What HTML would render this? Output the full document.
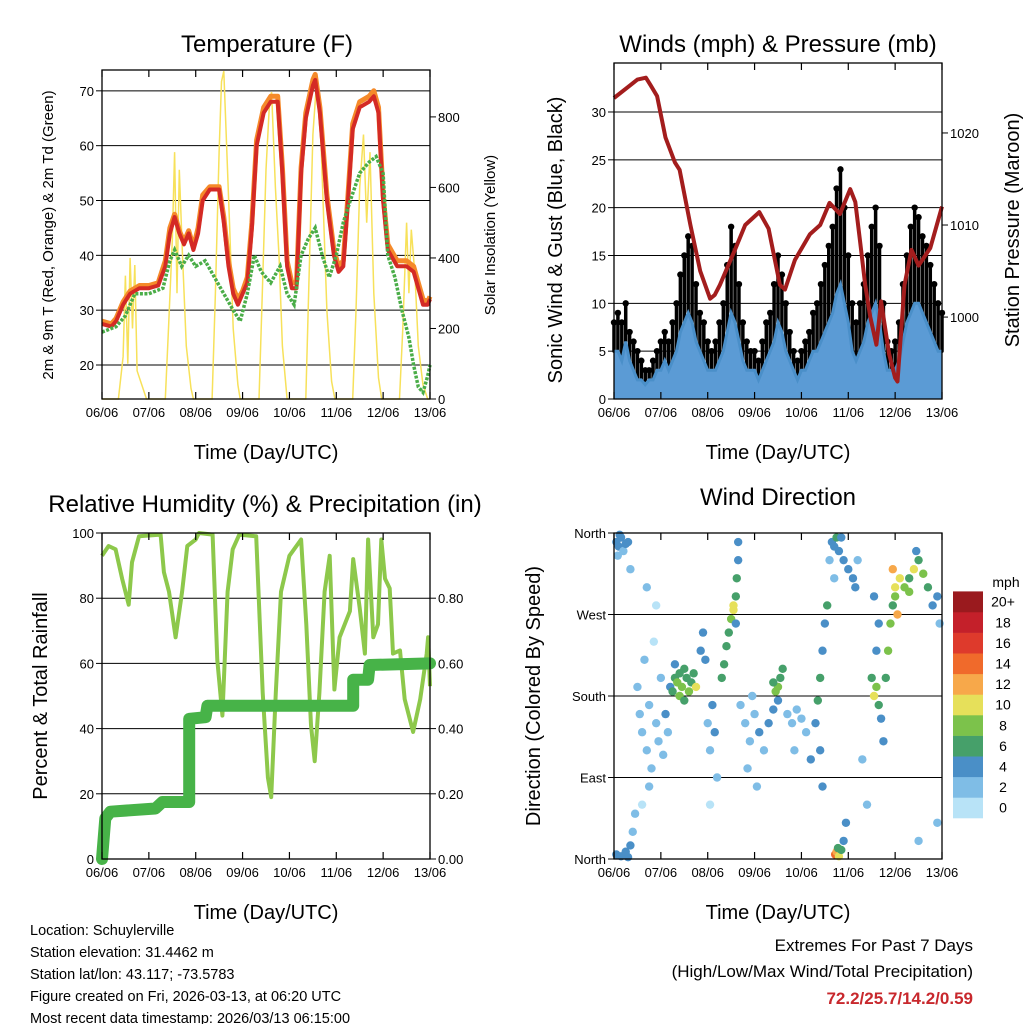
<!DOCTYPE html>
<html><head><meta charset="utf-8"><style>
body{margin:0;background:#fff}
svg{display:block;font-family:"Liberation Sans",sans-serif}
</style></head><body>
<svg id="s" width="1024" height="1024" viewBox="0 0 1024 1024" xmlns="http://www.w3.org/2000/svg"></svg>
<script>
// ---------- DATA ----------
const dayLabels = ["06/06","07/06","08/06","09/06","10/06","11/06","12/06","13/06"];
const tempTime = [0,0.2,0.3,0.45,0.6,0.8,1.0,1.2,1.35,1.45,1.55,1.65,1.75,1.85,1.95,2.05,2.15,2.3,2.5,2.6,2.7,2.8,2.9,3.0,3.1,3.2,3.3,3.45,3.6,3.75,3.85,3.95,4.05,4.15,4.25,4.35,4.5,4.55,4.65,4.8,4.95,5.05,5.15,5.25,5.35,5.5,5.7,5.8,5.9,6.0,6.1,6.3,6.5,6.65,6.75,6.85,6.95,7.0];
const temp2m = [27.5,27,28,31,33,34,34,34.5,38,44,47,44,42,44,41,44,50,52,52,46,38,33,31,33,35,45,60,66,68,68,55,38,34,34,55,65,71,72,66,50,40,37,38,50,63,67,68,69,66,50,41,38,38,37,34,31,31,32];
const temp9m = [28,27.5,28.5,31.5,33.5,34.5,34.5,35,39,45,47.5,44.5,42.5,44.5,41.5,45,51,52.5,52.5,47,39,34,32,33.5,36,46,61,67,69,69,56,39,35,35,56,66,72,73,67,51,41,38,39,51,64,68,69,70,67,51,42,39,39,38,35,32,31.5,32.5];
const dewTime = [0,0.3,0.5,0.7,1.0,1.3,1.45,1.55,1.7,1.85,2.0,2.2,2.4,2.6,2.8,2.95,3.1,3.25,3.4,3.6,3.8,3.95,4.1,4.25,4.4,4.55,4.7,4.85,5.0,5.15,5.3,5.5,5.7,5.85,6.0,6.1,6.25,6.4,6.55,6.65,6.75,6.85,6.95,7.0];
const dew2m = [26,27,29,33,33,34,39,41,38,40,38,39,36,33,30,28,33,40,37,35,38,33,31,40,43,45,40,36,40,46,50,55,57,58,55,40,36,30,25,20,16,15,18,20];
const solarTime = [0,0.35,0.45,0.5,0.55,0.6,0.65,0.7,0.75,0.85,0.95,1.35,1.42,1.5,1.55,1.6,1.65,1.72,1.8,1.9,1.95,2.35,2.42,2.5,2.55,2.6,2.65,2.72,2.8,2.9,2.95,3.35,3.42,3.5,3.58,3.62,3.7,3.78,3.85,3.95,4.35,4.42,4.5,4.58,4.65,4.72,4.8,4.9,4.97,5.35,5.42,5.5,5.58,5.65,5.72,5.8,5.9,5.97,6.35,6.42,6.5,6.55,6.6,6.68,6.75,6.85,6.95,7.0];
const solarVal = [0,0,120,350,100,400,200,380,80,40,0,0,200,450,700,300,650,400,150,30,0,0,300,700,900,930,750,500,200,40,0,0,300,650,850,870,600,400,150,0,0,350,750,900,820,550,250,50,0,0,250,600,750,500,700,300,60,0,0,200,500,300,480,350,150,40,0,0];
const gust = [8,9,8,10,7,6,5,4,3,3,4,5, 6,7,6,8,10,13,15,17,16,12,9,8, 6,5,6,8,10,14,18,16,12,8,6,5, 5,4,6,8,9,12,15,13,10,7,5,4, 5,6,7,9,10,12,14,16,18,22,24,20, 15,10,8,10,12,15,18,20,16,10,6,5, 6,8,12,15,18,20,19,17,16,14,12,10, 9];
const wind = [5,5,4,6,4,3,2,2,1.5,2,2,3, 3,4,3,4,5,7,8,9,8,6,5,4, 3,3,3,4,5,7,9,8,6,4,3,3, 3,2,3,4,5,6,8,7,5,4,3,2, 3,3,4,5,5,6,7,8,9,11,12,10, 8,5,4,5,6,8,9,10,8,5,3,3, 3,4,6,8,9,10,10,9,8,7,6,5, 5];
const presTime = [0,0.3,0.5,0.68,0.78,0.92,1.1,1.3,1.4,1.63,1.84,2.05,2.15,2.26,2.58,2.8,3.1,3.3,3.54,3.65,3.86,4.18,4.4,4.6,4.82,5.04,5.15,5.25,5.36,5.47,5.6,5.7,5.87,6.0,6.05,6.2,6.35,6.5,6.75,7.0];
const presVal = [1023.8,1025,1025.8,1026,1025.2,1024,1019.5,1016.8,1016,1010,1005,1002,1002.4,1003.5,1007.3,1010,1011.4,1009.6,1003.5,1003,1006.2,1009,1010,1012.4,1011.2,1013.9,1012.5,1008.3,1003.5,1000,997,1001.7,996,993.4,993,1003.5,1007.3,1005.6,1007.5,1012];
const rhTime = [0,0.14,0.29,0.43,0.57,0.64,0.79,1.25,1.32,1.43,1.57,1.71,1.82,2.0,2.07,2.36,2.46,2.57,2.68,2.79,2.93,3.29,3.43,3.54,3.61,3.71,3.82,4.0,4.25,4.36,4.46,4.54,4.64,4.75,4.86,4.96,5.07,5.29,5.36,5.5,5.61,5.68,5.79,5.89,5.96,6.04,6.14,6.21,6.36,6.46,6.64,6.79,6.93,6.96,7.0];
const rhVal = [93,96,95,86,78,91,99,99.5,88,82,68,82,96,98,100,99.5,61,44,82,95,99.5,99,51,25,19,51,82,93,98,72,41,30,51,82,93,52,68,76,92,77,63,98,68,72,98,86,83,63,64,49,39,49,63,68,53];
const rainTime = [0,0.07,0.18,1.14,1.29,1.86,1.86,2.21,2.25,5.36,5.36,5.68,5.71,7.0];
const rainVal = [0,0.125,0.145,0.155,0.175,0.175,0.43,0.435,0.47,0.47,0.55,0.55,0.595,0.60];
const dirTime = [0.05,0.1,0.15,0.2,0.25,0.08,0.3,0.12,0.35, 0.05,0.15,0.25,0.35,0.4,0.45,0.3, 0.5,0.55,0.6,0.65,0.7,0.75,0.8,0.85,0.9,0.95,1.0,1.05,1.1,1.15,0.7,0.9,0.6,0.75, 1.2,1.25,1.3,1.35,1.4,1.45,1.5,1.55,1.6,1.65,1.7,1.75,1.4,1.5,1.3,1.85,1.9,1.95, 2.0,2.05,2.1,2.15,2.2,2.05, 2.3,2.35,2.4,2.45,2.5,2.55,2.6,2.62,2.65,2.55,2.6,2.65, 2.7,2.8,2.9,3.0,3.1,3.2,3.3,3.4,2.85,3.05,2.95, 3.45,3.5,3.55,3.6,3.5,3.4, 3.7,3.8,3.9,4.0,4.1,3.85,4.2, 4.3,4.35,4.4,4.45,4.5,4.55,4.4,4.45, 4.6,4.65,4.7,4.75,4.8,4.85,4.9,5.0,5.1,5.15,5.2,4.7, 4.72,4.75,4.8,4.78,4.85,4.9,4.95, 5.5,5.55,5.6,5.65,5.7,5.75,5.6,5.65,5.55, 5.8,5.85,5.9,5.95,6.0,6.05,6.1,5.95,6.0, 6.2,6.3,6.4,6.5,6.6,6.7,6.8,6.9,6.95,6.3,6.45, 5.3,5.4,6.5,6.9];
const dirDeg = [350,345,355,340,348,335,350,358,320, 5,3,8,15,30,50,2, 190,160,140,220,120,170,100,240,150,130,200,115,160,140,300,280,60,80, 190,185,200,195,205,190,210,200,185,195,205,190,180,175,215,230,250,220, 150,120,170,140,90,60, 200,215,235,250,265,275,290,310,330,280,260,350, 170,150,130,160,140,120,150,165,100,80,180, 185,190,200,210,175,195, 160,150,165,155,140,120,110, 150,175,200,230,260,280,120,80, 330,350,345,355,340,355,330,320,310,300,330,310, 5,8,3,12,10,20,40, 200,180,190,170,155,130,230,260,290, 200,230,260,280,300,270,310,320,290, 300,310,320,330,315,300,280,290,260,295,340, 110,60,20,40];
const dirSpd = [3,4,3,2,4,2,3,4,1, 3,4,3,4,2,2,4, 1,2,2,1,1,2,1,0,2,2,1,2,3,2,1,0,0,1, 4,6,6,7,6,8,6,5,8,6,5,9,7,6,4,4,3,3, 2,2,3,3,1,0, 5,6,6,5,7,9,6,5,4,10,4,4, 1,2,2,1,3,2,4,3,1,1,1, 7,8,6,5,4,6, 2,2,1,2,2,1,3, 4,5,6,4,4,6,4,3, 2,3,4,6,3,4,4,4,3,4,2,2, 14,12,10,6,6,4,3, 6,10,7,5,4,3,4,4,3, 6,7,8,6,10,12,9,12,8, 8,6,9,6,8,5,4,4,2,7,4, 2,1,1,1];
const cbLabels = ["0","2","4","6","8","10","12","14","16","18","20+"];
const cbColors = ["#b8e3f7","#7fbde6","#4a8fc7","#46a06a","#7cc24b","#e6e05a","#f7a84a","#f06a2b","#de3a2c","#c4202a","#9a1a1e"];

// ---------- HELPERS ----------
const svg = document.getElementById('s');
const NS = "http://www.w3.org/2000/svg";
function mk(tag, attrs, parent, txt){
  const e = document.createElementNS(NS, tag);
  for (const k in attrs) e.setAttribute(k, attrs[k]);
  if (txt !== undefined) e.textContent = txt;
  (parent||svg).appendChild(e);
  return e;
}
function lin(d0,d1,r0,r1){ return v => r0 + (v-d0)/(d1-d0)*(r1-r0); }
function polyPts(xs, ys, fx, fy){ return xs.map((t,i)=>fx(t).toFixed(1)+","+fy(ys[i]).toFixed(1)).join(" "); }

function panel(name){
  const g = mk('g', {});
  
  
  return g;
}
function frame(g, L,R,T,B){
  const r = mk('rect', {x:L,y:T,width:R-L,height:B-T,fill:'none',stroke:'#000','stroke-width':1.3}, g);
  
  
}
function xAxis(g, L, R, T, B){
  const fx = lin(0,7,L,R);
  const ax = mk('g', {}, g);
  
  
  dayLabels.forEach((lab,i)=>{
    const x = fx(i);
    mk('line',{x1:x,y1:B,x2:x,y2:B-7,stroke:'#000','stroke-width':1.2},ax);
    mk('line',{x1:x,y1:T,x2:x,y2:T+7,stroke:'#000','stroke-width':1.2},ax);
    const t = mk('text',{x:x,y:B+18,'font-size':13,'text-anchor':'middle'},ax,lab);
    
    
  });
  const tt = mk('text',{x:(L+R)/2,y:B+60,'font-size':20,'text-anchor':'middle'},ax,'Time (Day/UTC)');
  
  
  return fx;
}
function yTicks(g, vals, labels, fy, L, R, grid, side){
  vals.forEach((v,i)=>{
    const y = fy(v);
    if (grid) mk('line',{x1:L,y1:y,x2:R,y2:y,stroke:'#000','stroke-width':1},g);
    const X = side==='left'?L:R;
    mk('line',{x1:X,y1:y,x2:side==='left'?X-6:X+6,y2:y,stroke:'#000','stroke-width':1},g);
    const t = mk('text',{x:side==='left'?X-8:X+8,y:y+5,'font-size':13,'text-anchor':side==='left'?'end':'start'},g,labels[i]);
    
    
  });
}
function title(txt, x, y, name){
  const t = mk('text',{x:x,y:y,'font-size':24,'text-anchor':'middle'},svg,txt);
  
  
}
function vtitle(txt, x, y, size, name){
  const t = mk('text',{x:x,y:y,'font-size':size,'text-anchor':'middle',transform:`rotate(-90 ${x} ${y})`},svg,txt);
  
  
}

// ---------- PANEL 1: TEMPERATURE ----------
(function(){
  const L=102,R=430,T=70,B=399;
  const g = panel('temperature-panel');
  const fy = lin(13.8,73.8,B,T);
  const fs = lin(0,933,B,T);
  const fx = lin(0,7,L,R);
  yTicks(g,[20,30,40,50,60,70],["20","30","40","50","60","70"],fy,L,R,true,'left');
  yTicks(g,[0,200,400,600,800],["0","200","400","600","800"],fs,L,R,false,'right');
  const sol = mk('polyline',{points:polyPts(solarTime,solarVal,fx,fs),fill:'none',stroke:'#f7e15a','stroke-width':1.5},g);
  
  
  const o = mk('polyline',{points:polyPts(tempTime,temp9m,fx,fy),fill:'none',stroke:'#f58a2a','stroke-width':5,'stroke-linejoin':'round'},g);
  
  
  const r = mk('polyline',{points:polyPts(tempTime,temp2m,fx,fy),fill:'none',stroke:'#d42a25','stroke-width':4,'stroke-linejoin':'round'},g);
  
  
  const d = mk('polyline',{points:polyPts(dewTime,dew2m,fx,fy),fill:'none',stroke:'#4aad48','stroke-width':3.5,'stroke-dasharray':'3 1.5'},g);
  
  
  frame(g,L,R,T,B);
  xAxis(g,L,R,T,B);
  title('Temperature (F)',267,52,'temperature-title');
  vtitle('2m & 9m T (Red, Orange) & 2m Td (Green)',53,235,15,'temperature-y-title');
  vtitle('Solar Insolation (Yellow)',495,235,15,'solar-y-title');
})();

// ---------- PANEL 2: WINDS ----------
(function(){
  const L=614,R=942,T=63,B=399;
  const g = panel('winds-panel');
  const fy = lin(0,35.12,B,T);
  const fp = lin(991.1,1027.6,B,T);
  const fx = lin(0,7,L,R);
  const wt = gust.map((_,i)=>i/12);
  yTicks(g,[0,5,10,15,20,25,30],["0","5","10","15","20","25","30"],fy,L,R,true,'left');
  yTicks(g,[1000,1010,1020],["1000","1010","1020"],fp,L,R,false,'right');
  // gust spread: segments from sustained wind to gust
  wt.forEach((t,i)=>{
    const s = mk('line',{x1:fx(t),y1:fy(wind[i]),x2:fx(t),y2:fy(gust[i]),stroke:'#000','stroke-width':3.5,'stroke-linecap':'round'},g);
    
    
  });
  const pts = wt.map((t,i)=>fx(t).toFixed(1)+","+fy(wind[i]).toFixed(1)).join(" ");
  const area = mk('polygon',{points:fx(0)+","+fy(0)+" "+pts+" "+fx(wt[wt.length-1])+","+fy(0),fill:'#5b9bd5'},g);
  
  
  const wl = mk('polyline',{points:pts,fill:'none',stroke:'#4a8fc9','stroke-width':3},g);
  
  
  wt.forEach((t,i)=>{
    const c = mk('circle',{cx:fx(t),cy:fy(gust[i]),r:3.2,fill:'#000'},g);
    
    
  });
  const p = mk('polyline',{points:polyPts(presTime,presVal,fx,fp),fill:'none',stroke:'#a31d1d','stroke-width':4,'stroke-linejoin':'round'},g);
  
  
  frame(g,L,R,T,B);
  xAxis(g,L,R,T,B);
  title('Winds (mph) & Pressure (mb)',778,52,'winds-title');
  vtitle('Sonic Wind & Gust (Blue, Black)',562,240,20,'wind-y-title');
  vtitle('Station Pressure (Maroon)',1019,230,20,'pressure-y-title');
})();

// ---------- PANEL 3: RH & PRECIP ----------
(function(){
  const L=102,R=430,T=533,B=859;
  const g = panel('humidity-panel');
  const fy = lin(0,100,B,T);
  const fr = lin(0,1,B,T);
  const fx = lin(0,7,L,R);
  yTicks(g,[0,20,40,60,80,100],["0","20","40","60","80","100"],fy,L,R,false,'left');
  [20,40,60,80].forEach(v=>mk('line',{x1:L,y1:fy(v),x2:R,y2:fy(v),stroke:'#000','stroke-width':1},g));
  yTicks(g,[0,0.2,0.4,0.6,0.8],["0.00","0.20","0.40","0.60","0.80"],fr,L,R,false,'right');
  const rh = mk('polyline',{points:polyPts(rhTime,rhVal,fx,fy),fill:'none',stroke:'#8dc84b','stroke-width':4,'stroke-linejoin':'round'},g);
  
  
  const rn = mk('polyline',{points:polyPts(rainTime,rainVal,fx,fr),fill:'none',stroke:'#47b348','stroke-width':12,'stroke-linejoin':'round','stroke-linecap':'round'},g);
  
  
  frame(g,L,R,T,B);
  xAxis(g,L,R,T,B);
  title('Relative Humidity (%) & Precipitation (in)',265,512,'humidity-title');
  vtitle('Percent & Total Rainfall',47,696,20,'humidity-y-title');
})();

// ---------- PANEL 4: WIND DIRECTION ----------
(function(){
  const L=614,R=942,T=533,B=859;
  const g = panel('wind-direction-panel');
  const fy = lin(0,360,B,T);
  const fx = lin(0,7,L,R);
  yTicks(g,[0,90,180,270,360],["North","East","South","West","North"],fy,L,R,false,'left');
  [90,180,270].forEach(v=>mk('line',{x1:L,y1:fy(v),x2:R,y2:fy(v),stroke:'#000','stroke-width':1},g));
  dirTime.forEach((t,i)=>{
    const k = Math.min(10, Math.max(0, Math.round(dirSpd[i]/2)));
    const c = mk('circle',{cx:fx(t),cy:fy(dirDeg[i]),r:4.2,fill:cbColors[k]},g);
    
    
  });
  frame(g,L,R,T,B);
  xAxis(g,L,R,T,B);
  title('Wind Direction',778,505,'wind-direction-title');
  vtitle('Direction (Colored By Speed)',540,696,20,'direction-y-title');
  const cb = mk('g',{},svg);
  
  
  const h = 20.6;
  cbColors.forEach((c,i)=>{
    const y = 818 - (i+1)*h;
    mk('rect',{x:953,y:y,width:30,height:h+0.3,fill:c},cb);
    mk('text',{x:1003,y:y+h/2+5,'font-size':14,'text-anchor':'middle'},cb,cbLabels[i]);
  });
  mk('text',{x:1006,y:587,'font-size':14,'text-anchor':'middle'},cb,'mph');
})();

// ---------- FOOTER ----------
const info = ["Location: Schuylerville","Station elevation: 31.4462 m","Station lat/lon: 43.117; -73.5783","Figure created on Fri, 2026-03-13, at 06:20 UTC","Most recent data timestamp: 2026/03/13 06:15:00"];
info.forEach((s,i)=>{
  const t = mk('text',{x:30,y:935+i*22,'font-size':14.5},svg,s);
  
  
});
const e1 = mk('text',{x:973,y:951,'font-size':17,'text-anchor':'end'},svg,'Extremes For Past 7 Days');


const e2 = mk('text',{x:973,y:977,'font-size':17,'text-anchor':'end'},svg,'(High/Low/Max Wind/Total Precipitation)');


const e3 = mk('text',{x:973,y:1004,'font-size':17,'font-weight':'bold','text-anchor':'end',fill:'#c8282d'},svg,'72.2/25.7/14.2/0.59');


</script>
</body></html>
